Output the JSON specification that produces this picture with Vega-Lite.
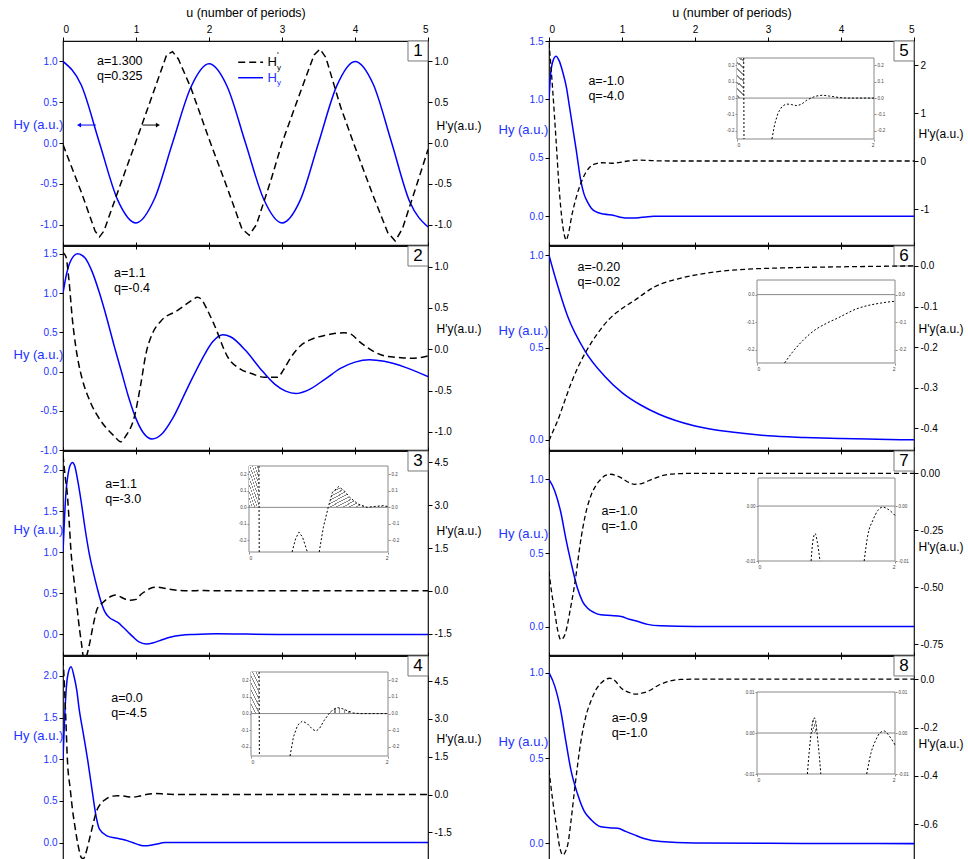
{
"$schema":"https://vega.github.io/schema/vega-lite/v6.json",
"padding":{"left":12,"top":5,"right":4,"bottom":2},
"bounds":"flush",
"spacing":486,
"config":{"font":"Liberation Sans","locale":{"number":{"decimal":".","thousands":",","grouping":[3],"currency":["$",""],"minus":"-"}},"view":{"stroke":"#111","strokeWidth":1.2},
"axis":{"grid":false,"domain":false,"labelFontSize":10,"tickSize":4,"labelPadding":2,"tickColor":"#000","labelColor":"#000","titleFontWeight":"normal","titleFontSize":13,"titleColor":"#000"}},
"datasets":{
"p1hy":[{"u":0,"v":1.0},{"u":0.25,"v":0.71},{"u":0.5,"v":0.0},{"u":0.75,"v":-0.7},{"u":1.0,"v":-0.98},{"u":1.25,"v":-0.69},{"u":1.5,"v":0.0},{"u":1.75,"v":0.68},{"u":2.0,"v":0.97},{"u":2.25,"v":0.69},{"u":2.5,"v":0.0},{"u":2.75,"v":-0.69},{"u":3.0,"v":-0.98},{"u":3.25,"v":-0.7},{"u":3.5,"v":0.0},{"u":3.75,"v":0.7},{"u":4.0,"v":1.0},{"u":4.25,"v":0.72},{"u":4.5,"v":0.01},{"u":4.75,"v":-0.72},{"u":5.0,"v":-1.03}],
"p1hp":[{"u":0,"v":-0.02},{"u":0.25,"v":-0.6},{"u":0.44,"v":-1.08},{"u":0.5,"v":-1.15},{"u":0.56,"v":-1.08},{"u":0.75,"v":-0.6},{"u":1.0,"v":0.02},{"u":1.25,"v":0.65},{"u":1.42,"v":1.08},{"u":1.5,"v":1.12},{"u":1.58,"v":1.03},{"u":1.75,"v":0.68},{"u":2.0,"v":0.05},{"u":2.25,"v":-0.55},{"u":2.45,"v":-1.05},{"u":2.55,"v":-1.13},{"u":2.65,"v":-1.0},{"u":2.85,"v":-0.45},{"u":3.0,"v":0.0},{"u":3.25,"v":0.62},{"u":3.44,"v":1.08},{"u":3.52,"v":1.15},{"u":3.6,"v":1.05},{"u":3.8,"v":0.45},{"u":4.0,"v":-0.05},{"u":4.25,"v":-0.65},{"u":4.45,"v":-1.1},{"u":4.55,"v":-1.2},{"u":4.65,"v":-1.05},{"u":4.85,"v":-0.5},{"u":5.0,"v":-0.08}],
"p2hy":[{"u":0,"v":1.0},{"u":0.05,"v":1.25},{"u":0.1,"v":1.4},{"u":0.2,"v":1.5},{"u":0.3,"v":1.45},{"u":0.4,"v":1.27},{"u":0.5,"v":1.0},{"u":0.6,"v":0.68},{"u":0.7,"v":0.33},{"u":0.8,"v":0.0},{"u":0.9,"v":-0.33},{"u":1.0,"v":-0.6},{"u":1.1,"v":-0.78},{"u":1.22,"v":-0.86},{"u":1.35,"v":-0.8},{"u":1.5,"v":-0.6},{"u":1.7,"v":-0.22},{"u":1.9,"v":0.15},{"u":2.05,"v":0.38},{"u":2.19,"v":0.47},{"u":2.3,"v":0.44},{"u":2.5,"v":0.27},{"u":2.7,"v":0.04},{"u":2.9,"v":-0.16},{"u":3.05,"v":-0.25},{"u":3.19,"v":-0.28},{"u":3.35,"v":-0.24},{"u":3.6,"v":-0.09},{"u":3.8,"v":0.04},{"u":4.0,"v":0.12},{"u":4.2,"v":0.15},{"u":4.4,"v":0.13},{"u":4.7,"v":0.05},{"u":5.0,"v":-0.065}],
"p2hp":[{"u":0,"v":1.17},{"u":0.04,"v":1.12},{"u":0.08,"v":0.85},{"u":0.13,"v":0.35},{"u":0.18,"v":0.0},{"u":0.22,"v":-0.2},{"u":0.26,"v":-0.35},{"u":0.38,"v":-0.65},{"u":0.52,"v":-0.87},{"u":0.7,"v":-1.05},{"u":0.79,"v":-1.12},{"u":0.86,"v":-1.05},{"u":0.98,"v":-0.81},{"u":1.06,"v":-0.45},{"u":1.14,"v":-0.04},{"u":1.22,"v":0.18},{"u":1.34,"v":0.34},{"u":1.57,"v":0.47},{"u":1.78,"v":0.6},{"u":1.84,"v":0.63},{"u":1.9,"v":0.6},{"u":1.98,"v":0.47},{"u":2.07,"v":0.3},{"u":2.26,"v":-0.1},{"u":2.43,"v":-0.24},{"u":2.6,"v":-0.3},{"u":2.76,"v":-0.34},{"u":2.94,"v":-0.34},{"u":3.02,"v":-0.25},{"u":3.12,"v":-0.1},{"u":3.25,"v":0.04},{"u":3.4,"v":0.12},{"u":3.6,"v":0.17},{"u":3.85,"v":0.2},{"u":3.95,"v":0.18},{"u":4.05,"v":0.1},{"u":4.17,"v":0.02},{"u":4.4,"v":-0.08},{"u":4.6,"v":-0.1},{"u":4.77,"v":-0.11},{"u":4.9,"v":-0.1},{"u":5.0,"v":-0.08}],
"p3hy":[{"u":0,"v":1.0},{"u":0.02,"v":1.4},{"u":0.04,"v":1.72},{"u":0.07,"v":1.95},{"u":0.1,"v":2.06},{"u":0.13,"v":2.09},{"u":0.16,"v":2.05},{"u":0.2,"v":1.88},{"u":0.25,"v":1.61},{"u":0.3,"v":1.3},{"u":0.36,"v":0.98},{"u":0.42,"v":0.74},{"u":0.47,"v":0.56},{"u":0.52,"v":0.4},{"u":0.57,"v":0.28},{"u":0.63,"v":0.21},{"u":0.7,"v":0.17},{"u":0.76,"v":0.14},{"u":0.82,"v":0.09},{"u":0.89,"v":0.03},{"u":0.96,"v":-0.03},{"u":1.04,"v":-0.09},{"u":1.14,"v":-0.115},{"u":1.24,"v":-0.1},{"u":1.34,"v":-0.07},{"u":1.48,"v":-0.03},{"u":1.62,"v":-0.01},{"u":1.8,"v":0.0},{"u":2.1,"v":0.008},{"u":2.5,"v":0.004},{"u":3.0,"v":0.0},{"u":5.0,"v":0.0}],
"p3hp":[{"u":0,"v":4.76},{"u":0.03,"v":4.0},{"u":0.06,"v":3.36},{"u":0.085,"v":2.4},{"u":0.11,"v":1.37},{"u":0.145,"v":0.5},{"u":0.18,"v":-0.27},{"u":0.21,"v":-1.0},{"u":0.25,"v":-1.79},{"u":0.29,"v":-2.4},{"u":0.32,"v":-2.3},{"u":0.36,"v":-1.9},{"u":0.41,"v":-1.25},{"u":0.47,"v":-0.62},{"u":0.55,"v":-0.4},{"u":0.62,"v":-0.25},{"u":0.67,"v":-0.18},{"u":0.72,"v":-0.15},{"u":0.77,"v":-0.19},{"u":0.84,"v":-0.28},{"u":0.91,"v":-0.33},{"u":1.0,"v":-0.3},{"u":1.07,"v":-0.12},{"u":1.14,"v":0.0},{"u":1.2,"v":0.09},{"u":1.29,"v":0.125},{"u":1.37,"v":0.1},{"u":1.45,"v":0.06},{"u":1.57,"v":0.02},{"u":1.7,"v":0.0},{"u":1.93,"v":0.01},{"u":2.1,"v":0.0},{"u":5.0,"v":0.0}],
"p3in":[{"s":1,"u":0.143,"v":0.25},{"s":1,"u":0.147,"v":-0.27},{"s":2,"u":0.62,"v":-0.27},{"s":2,"u":0.67,"v":-0.19},{"s":2,"u":0.72,"v":-0.15},{"s":2,"u":0.77,"v":-0.18},{"s":2,"u":0.84,"v":-0.27},{"s":3,"u":1.01,"v":-0.27},{"s":3,"u":1.07,"v":-0.12},{"s":3,"u":1.14,"v":0.0},{"s":3,"u":1.2,"v":0.09},{"s":3,"u":1.29,"v":0.125},{"s":3,"u":1.37,"v":0.1},{"s":3,"u":1.45,"v":0.06},{"s":3,"u":1.57,"v":0.02},{"s":3,"u":1.7,"v":0.0},{"s":3,"u":1.8,"v":0.005},{"s":3,"u":1.93,"v":0.01},{"s":3,"u":2.0,"v":0.005}],
"p3hatch":[{"s":1,"u":0,"v":0.25},{"s":1,"u":0.145,"v":0.25},{"s":2,"u":1.14,"v":0.0},{"s":2,"u":1.2,"v":0.09},{"s":2,"u":1.29,"v":0.125},{"s":2,"u":1.37,"v":0.1},{"s":2,"u":1.45,"v":0.06},{"s":2,"u":1.57,"v":0.02},{"s":2,"u":1.7,"v":0.0},{"s":3,"u":1.7,"v":0.0},{"s":3,"u":1.8,"v":0.005},{"s":3,"u":1.93,"v":0.01},{"s":3,"u":2.0,"v":0.005}],
"p4hy":[{"u":0,"v":1.0},{"u":0.02,"v":1.45},{"u":0.045,"v":1.85},{"u":0.07,"v":2.03},{"u":0.11,"v":2.11},{"u":0.15,"v":2.0},{"u":0.19,"v":1.82},{"u":0.22,"v":1.61},{"u":0.28,"v":1.3},{"u":0.34,"v":0.98},{"u":0.4,"v":0.62},{"u":0.45,"v":0.33},{"u":0.5,"v":0.16},{"u":0.6,"v":0.08},{"u":0.74,"v":0.05},{"u":0.85,"v":0.03},{"u":0.95,"v":0.0},{"u":1.05,"v":-0.03},{"u":1.11,"v":-0.04},{"u":1.25,"v":-0.025},{"u":1.4,"v":0.0},{"u":5.0,"v":0.0}],
"p4hp":[{"u":0,"v":5.4},{"u":0.02,"v":4.3},{"u":0.04,"v":2.9},{"u":0.06,"v":1.4},{"u":0.1,"v":0.2},{"u":0.13,"v":-0.6},{"u":0.16,"v":-1.2},{"u":0.19,"v":-1.75},{"u":0.22,"v":-2.2},{"u":0.25,"v":-2.5},{"u":0.28,"v":-2.55},{"u":0.31,"v":-2.35},{"u":0.36,"v":-1.8},{"u":0.41,"v":-1.2},{"u":0.45,"v":-0.74},{"u":0.52,"v":-0.35},{"u":0.58,"v":-0.2},{"u":0.65,"v":-0.08},{"u":0.75,"v":-0.045},{"u":0.85,"v":-0.07},{"u":0.95,"v":-0.105},{"u":1.05,"v":-0.06},{"u":1.14,"v":0.0},{"u":1.26,"v":0.036},{"u":1.4,"v":0.02},{"u":1.6,"v":0.0},{"u":5.0,"v":0.0}],
"p4in":[{"s":1,"u":0.118,"v":0.25},{"s":1,"u":0.122,"v":-0.255},{"s":2,"u":0.57,"v":-0.255},{"s":2,"u":0.62,"v":-0.14},{"s":2,"u":0.68,"v":-0.07},{"s":2,"u":0.75,"v":-0.045},{"s":2,"u":0.82,"v":-0.06},{"s":2,"u":0.9,"v":-0.095},{"s":2,"u":0.95,"v":-0.105},{"s":2,"u":1.0,"v":-0.09},{"s":2,"u":1.07,"v":-0.04},{"s":2,"u":1.14,"v":0.0},{"s":2,"u":1.2,"v":0.025},{"s":2,"u":1.26,"v":0.036},{"s":2,"u":1.33,"v":0.03},{"s":2,"u":1.42,"v":0.015},{"s":2,"u":1.5,"v":0.003},{"s":2,"u":1.6,"v":0.0},{"s":2,"u":2.0,"v":0.0}],
"p4hatch":[{"s":1,"u":0,"v":0.25},{"s":1,"u":0.12,"v":0.25},{"s":2,"u":1.14,"v":0.0},{"s":2,"u":1.2,"v":0.025},{"s":2,"u":1.26,"v":0.036},{"s":2,"u":1.33,"v":0.03},{"s":2,"u":1.42,"v":0.015},{"s":2,"u":1.5,"v":0.003},{"s":2,"u":1.55,"v":0.0}],
"p5hy":[{"u":0,"v":1.0},{"u":0.02,"v":1.2},{"u":0.05,"v":1.32},{"u":0.096,"v":1.37},{"u":0.14,"v":1.33},{"u":0.19,"v":1.23},{"u":0.24,"v":1.1},{"u":0.28,"v":0.94},{"u":0.33,"v":0.74},{"u":0.37,"v":0.58},{"u":0.44,"v":0.29},{"u":0.48,"v":0.19},{"u":0.53,"v":0.12},{"u":0.58,"v":0.07},{"u":0.64,"v":0.04},{"u":0.75,"v":0.02},{"u":0.89,"v":0.008},{"u":1.0,"v":-0.01},{"u":1.08,"v":-0.015},{"u":1.25,"v":-0.01},{"u":1.44,"v":0.0},{"u":5.0,"v":0.0}],
"p5hp":[{"u":0,"v":2.46},{"u":0.02,"v":2.1},{"u":0.05,"v":1.49},{"u":0.096,"v":0.45},{"u":0.14,"v":-0.59},{"u":0.18,"v":-1.25},{"u":0.22,"v":-1.6},{"u":0.235,"v":-1.65},{"u":0.26,"v":-1.55},{"u":0.32,"v":-1.08},{"u":0.38,"v":-0.72},{"u":0.44,"v":-0.45},{"u":0.5,"v":-0.25},{"u":0.58,"v":-0.1},{"u":0.66,"v":-0.05},{"u":0.72,"v":-0.036},{"u":0.8,"v":-0.04},{"u":0.88,"v":-0.047},{"u":0.95,"v":-0.035},{"u":1.08,"v":0.0},{"u":1.25,"v":0.018},{"u":1.45,"v":0.005},{"u":1.7,"v":0.0},{"u":5.0,"v":0.0}],
"p5in":[{"s":1,"u":0.098,"v":0.245},{"s":1,"u":0.102,"v":-0.25},{"s":2,"u":0.51,"v":-0.25},{"s":2,"u":0.55,"v":-0.16},{"s":2,"u":0.6,"v":-0.09},{"s":2,"u":0.66,"v":-0.05},{"s":2,"u":0.72,"v":-0.036},{"s":2,"u":0.8,"v":-0.04},{"s":2,"u":0.88,"v":-0.047},{"s":2,"u":0.95,"v":-0.035},{"s":2,"u":1.02,"v":-0.012},{"s":2,"u":1.08,"v":0.0},{"s":2,"u":1.15,"v":0.012},{"s":2,"u":1.25,"v":0.018},{"s":2,"u":1.35,"v":0.012},{"s":2,"u":1.5,"v":0.003},{"s":2,"u":1.6,"v":0.0},{"s":2,"u":2.0,"v":0.0}],
"p5hatch":[{"s":1,"u":0,"v":0.245},{"s":1,"u":0.1,"v":0.245}],
"p6hy":[{"u":0,"v":1.0},{"u":0.1,"v":0.86},{"u":0.25,"v":0.675},{"u":0.5,"v":0.477},{"u":0.75,"v":0.35},{"u":1.0,"v":0.256},{"u":1.25,"v":0.19},{"u":1.5,"v":0.14},{"u":2.0,"v":0.075},{"u":2.5,"v":0.042},{"u":3.0,"v":0.022},{"u":3.5,"v":0.013},{"u":4.0,"v":0.007},{"u":4.5,"v":0.003},{"u":5.0,"v":0.0}],
"p6hp":[{"u":0,"v":-0.43},{"u":0.06,"v":-0.405},{"u":0.12,"v":-0.38},{"u":0.2,"v":-0.34},{"u":0.3,"v":-0.29},{"u":0.4,"v":-0.248},{"u":0.51,"v":-0.21},{"u":0.67,"v":-0.165},{"u":0.83,"v":-0.13},{"u":1.0,"v":-0.105},{"u":1.17,"v":-0.085},{"u":1.44,"v":-0.052},{"u":1.81,"v":-0.03},{"u":2.27,"v":-0.015},{"u":2.72,"v":-0.008},{"u":3.18,"v":-0.005},{"u":4.09,"v":-0.002},{"u":5.0,"v":0.0}],
"p6in":[{"s":1,"u":0.4,"v":-0.248},{"s":1,"u":0.51,"v":-0.21},{"s":1,"u":0.67,"v":-0.165},{"s":1,"u":0.83,"v":-0.13},{"s":1,"u":1.0,"v":-0.105},{"s":1,"u":1.17,"v":-0.085},{"s":1,"u":1.44,"v":-0.052},{"s":1,"u":1.81,"v":-0.03},{"s":1,"u":2.0,"v":-0.024}],
"p7hy":[{"u":0,"v":1.0},{"u":0.08,"v":0.92},{"u":0.16,"v":0.78},{"u":0.23,"v":0.6},{"u":0.3,"v":0.44},{"u":0.39,"v":0.26},{"u":0.46,"v":0.17},{"u":0.53,"v":0.125},{"u":0.62,"v":0.095},{"u":0.71,"v":0.08},{"u":0.85,"v":0.075},{"u":0.99,"v":0.068},{"u":1.1,"v":0.05},{"u":1.22,"v":0.034},{"u":1.35,"v":0.015},{"u":1.53,"v":0.005},{"u":2.0,"v":0.0},{"u":5.0,"v":0.0}],
"p7hp":[{"u":0,"v":-0.43},{"u":0.035,"v":-0.52},{"u":0.07,"v":-0.59},{"u":0.12,"v":-0.69},{"u":0.16,"v":-0.73},{"u":0.2,"v":-0.72},{"u":0.23,"v":-0.695},{"u":0.29,"v":-0.6},{"u":0.35,"v":-0.49},{"u":0.44,"v":-0.283},{"u":0.5,"v":-0.18},{"u":0.58,"v":-0.093},{"u":0.65,"v":-0.05},{"u":0.71,"v":-0.026},{"u":0.78,"v":-0.008},{"u":0.85,"v":-0.004},{"u":0.92,"v":-0.01},{"u":0.99,"v":-0.02},{"u":1.08,"v":-0.038},{"u":1.17,"v":-0.048},{"u":1.25,"v":-0.046},{"u":1.31,"v":-0.04},{"u":1.42,"v":-0.025},{"u":1.53,"v":-0.012},{"u":1.65,"v":-0.004},{"u":1.81,"v":-0.001},{"u":2.0,"v":0.0},{"u":5.0,"v":0.0}],
"p7in":[{"s":1,"u":0.775,"v":-0.01},{"s":1,"u":0.8,"v":-0.0065},{"s":1,"u":0.833,"v":-0.005},{"s":1,"u":0.865,"v":-0.0065},{"s":1,"u":0.905,"v":-0.01},{"s":2,"u":1.55,"v":-0.01},{"s":2,"u":1.6,"v":-0.0055},{"s":2,"u":1.68,"v":-0.0025},{"s":2,"u":1.75,"v":-0.0008},{"s":2,"u":1.82,"v":-0.0002},{"s":2,"u":1.9,"v":-0.0006},{"s":2,"u":2.0,"v":-0.0017}],
"p8hy":[{"u":0,"v":1.0},{"u":0.08,"v":0.92},{"u":0.16,"v":0.78},{"u":0.23,"v":0.6},{"u":0.3,"v":0.43},{"u":0.39,"v":0.29},{"u":0.48,"v":0.19},{"u":0.58,"v":0.137},{"u":0.71,"v":0.097},{"u":0.85,"v":0.09},{"u":0.94,"v":0.088},{"u":1.05,"v":0.07},{"u":1.17,"v":0.049},{"u":1.3,"v":0.028},{"u":1.53,"v":0.01},{"u":2.0,"v":0.002},{"u":3.0,"v":0.0},{"u":4.0,"v":-0.001},{"u":5.0,"v":-0.002}],
"p8hp":[{"u":0,"v":-0.375},{"u":0.05,"v":-0.5},{"u":0.096,"v":-0.596},{"u":0.15,"v":-0.7},{"u":0.19,"v":-0.727},{"u":0.23,"v":-0.71},{"u":0.26,"v":-0.68},{"u":0.3,"v":-0.59},{"u":0.35,"v":-0.458},{"u":0.44,"v":-0.251},{"u":0.5,"v":-0.16},{"u":0.58,"v":-0.086},{"u":0.65,"v":-0.04},{"u":0.7,"v":-0.02},{"u":0.76,"v":-0.004},{"u":0.83,"v":0.004},{"u":0.9,"v":-0.005},{"u":0.99,"v":-0.037},{"u":1.1,"v":-0.055},{"u":1.19,"v":-0.062},{"u":1.27,"v":-0.058},{"u":1.35,"v":-0.051},{"u":1.5,"v":-0.025},{"u":1.63,"v":-0.01},{"u":1.8,"v":-0.001},{"u":2.0,"v":0.0},{"u":5.0,"v":0.0}],
"p8in":[{"s":1,"u":0.73,"v":-0.01},{"s":1,"u":0.76,"v":-0.004},{"s":1,"u":0.785,"v":0.0},{"s":1,"u":0.81,"v":0.003},{"s":1,"u":0.83,"v":0.0037},{"s":1,"u":0.85,"v":0.003},{"s":1,"u":0.87,"v":0.0},{"s":1,"u":0.9,"v":-0.005},{"s":1,"u":0.925,"v":-0.01},{"s":2,"u":1.59,"v":-0.01},{"s":2,"u":1.65,"v":-0.005},{"s":2,"u":1.72,"v":-0.0018},{"s":2,"u":1.78,"v":0.0},{"s":2,"u":1.84,"v":0.0005},{"s":2,"u":1.92,"v":-0.0008},{"s":2,"u":2.0,"v":-0.0029}],
"p8hatch":[{"s":1,"u":0.785,"v":0.0},{"s":1,"u":0.81,"v":0.003},{"s":1,"u":0.83,"v":0.0037},{"s":1,"u":0.85,"v":0.003},{"s":1,"u":0.87,"v":0.0}]
},
"hconcat":[
{"vconcat":[
{"width":365,"height":204,
"layer":[
{"layer":[
{"data":{"name":"p1hy"},"mark":{"type":"line","color":"#0000ff","strokeWidth":1.5,"interpolate":"monotone","clip":true},
"encoding":{"x":{"field":"u","type":"quantitative","scale":{"domain":[0,5],"nice":false,"zero":false},"axis":{"orient":"top","values":[0,1,2,3,4,5],"format":"d","title":"u (number of periods)","titleFontSize":12.5,"titlePadding":5,"labelPadding":3}},
"y":{"field":"v","type":"quantitative","scale":{"domain":[-1.25,1.25],"nice":false,"zero":false},"axis":{"orient":"left","values":[-1,-0.5,0,0.5,1],"format":".1f","labelColor":"#2233ff","title":"Hy (a.u.)","titleColor":"#2233ff","titleAngle":0,"titleX":-50,"titleY":83,"titleAlign":"left","titleBaseline":"middle"}}}},
{"data":{"values":[{}]},"mark":{"type":"text","align":"left","baseline":"top","fontSize":12.5,"lineHeight":15},"encoding":{"x":{"datum":0.466},"y":{"datum":1.077},"text":{"value":["a=1.300","q=0.325"]}}},
{"data":{"values":[{}]},"mark":{"type":"rect","fill":"#fff","stroke":"#777","strokeWidth":1},"encoding":{"x":{"datum":4.726},"x2":{"datum":5},"y":{"datum":1.25},"y2":{"datum":1.005}}},
{"data":{"values":[{}]},"mark":{"type":"text","align":"center","baseline":"middle","fontSize":17},"encoding":{"x":{"datum":4.863},"y":{"datum":1.128},"text":{"value":"1"}}},
{"data":{"values":[{}]},"mark":{"type":"rule","color":"#0000ff","strokeWidth":1},"encoding":{"x":{"datum":0.23},"x2":{"datum":0.45},"y":{"datum":0.22}}},
{"data":{"values":[{}]},"mark":{"type":"point","shape":"triangle-left","filled":true,"color":"#0000ff","size":22,"opacity":1},"encoding":{"x":{"datum":0.22},"y":{"datum":0.22}}},
{"data":{"values":[{}]},"mark":{"type":"rule","color":"#000","strokeWidth":1},"encoding":{"x":{"datum":1.09},"x2":{"datum":1.28},"y":{"datum":0.22}}},
{"data":{"values":[{}]},"mark":{"type":"point","shape":"triangle-right","filled":true,"color":"#000","size":22,"opacity":1},"encoding":{"x":{"datum":1.3},"y":{"datum":0.22}}},
{"data":{"values":[{}]},"mark":{"type":"rule","color":"#000","strokeWidth":1.5,"strokeDash":[7,4]},"encoding":{"x":{"datum":2.4},"x2":{"datum":2.74},"y":{"datum":0.99}}},
{"data":{"values":[{}]},"mark":{"type":"rule","color":"#0000ff","strokeWidth":1.5},"encoding":{"x":{"datum":2.4},"x2":{"datum":2.74},"y":{"datum":0.8}}},
{"data":{"values":[{}]},"mark":{"type":"text","align":"left","baseline":"middle","fontSize":13,"color":"#000"},"encoding":{"x":{"datum":2.8},"y":{"datum":0.99},"text":{"value":"H"}}},
{"data":{"values":[{}]},"mark":{"type":"text","align":"left","baseline":"middle","fontSize":9,"color":"#000"},"encoding":{"x":{"datum":2.93},"y":{"datum":1.08},"text":{"value":"'"}}},
{"data":{"values":[{}]},"mark":{"type":"text","align":"left","baseline":"middle","fontSize":8,"color":"#000"},"encoding":{"x":{"datum":2.93},"y":{"datum":0.92},"text":{"value":"y"}}},
{"data":{"values":[{}]},"mark":{"type":"text","align":"left","baseline":"middle","fontSize":13,"color":"#2233ff"},"encoding":{"x":{"datum":2.8},"y":{"datum":0.8},"text":{"value":"H"}}},
{"data":{"values":[{}]},"mark":{"type":"text","align":"left","baseline":"middle","fontSize":8,"color":"#2233ff"},"encoding":{"x":{"datum":2.93},"y":{"datum":0.73},"text":{"value":"y"}}}
]},
{"data":{"name":"p1hp"},"mark":{"type":"line","color":"#000","strokeWidth":1.5,"strokeDash":[7,4],"clip":true},
"encoding":{"x":{"field":"u","type":"quantitative","scale":{"domain":[0,5],"nice":false,"zero":false},"axis":{"orient":"bottom","values":[0,1,2,3,4,5],"labels":false,"title":null}},
"y":{"field":"v","type":"quantitative","scale":{"domain":[-1.25,1.25],"nice":false,"zero":false},"axis":{"orient":"right","values":[-1,-0.5,0,0.5,1],"format":".1f","title":"H'y(a.u.)","titleFontSize":12,"titleAngle":0,"titleX":8,"titleY":84,"titleAlign":"left","titleBaseline":"middle"}}}}
],
"resolve":{"scale":{"x":"independent","y":"independent"}}},

{"width":365,"height":204,
"layer":[
{"layer":[
{"data":{"name":"p2hy"},"mark":{"type":"line","color":"#0000ff","strokeWidth":1.5,"interpolate":"monotone","clip":true},
"encoding":{"x":{"field":"u","type":"quantitative","scale":{"domain":[0,5],"nice":false,"zero":false},"axis":{"orient":"top","values":[0,1,2,3,4,5],"labels":false,"title":null}},
"y":{"field":"v","type":"quantitative","scale":{"domain":[-1.0,1.6],"nice":false,"zero":false},"axis":{"orient":"left","values":[-1,-0.5,0,0.5,1,1.5],"format":".1f","labelColor":"#2233ff","title":"Hy (a.u.)","titleColor":"#2233ff","titleAngle":0,"titleX":-50,"titleY":108,"titleAlign":"left","titleBaseline":"middle"}}}},
{"data":{"values":[{}]},"mark":{"type":"text","align":"left","baseline":"top","fontSize":12.5,"lineHeight":15},"encoding":{"x":{"datum":0.7},"y":{"datum":1.336},"text":{"value":["a=1.1","q=-0.4"]}}},
{"data":{"values":[{}]},"mark":{"type":"rect","fill":"#fff","stroke":"#777","strokeWidth":1},"encoding":{"x":{"datum":4.726},"x2":{"datum":5},"y":{"datum":1.6},"y2":{"datum":1.345}}},
{"data":{"values":[{}]},"mark":{"type":"text","align":"center","baseline":"middle","fontSize":17},"encoding":{"x":{"datum":4.863},"y":{"datum":1.473},"text":{"value":"2"}}}
]},
{"data":{"name":"p2hp"},"mark":{"type":"line","color":"#000","strokeWidth":1.5,"strokeDash":[7,4],"interpolate":"monotone","clip":true},
"encoding":{"x":{"field":"u","type":"quantitative","scale":{"domain":[0,5],"nice":false,"zero":false},"axis":{"orient":"bottom","values":[0,1,2,3,4,5],"labels":false,"title":null}},
"y":{"field":"v","type":"quantitative","scale":{"domain":[-1.22,1.25],"nice":false,"zero":false},"axis":{"orient":"right","values":[-1,-0.5,0,0.5,1],"format":".1f","title":"H'y(a.u.)","titleFontSize":12,"titleAngle":0,"titleX":8,"titleY":82,"titleAlign":"left","titleBaseline":"middle"}}}}
],
"resolve":{"scale":{"x":"independent","y":"independent"}}},

{"width":365,"height":204,
"layer":[
{"layer":[
{"data":{"name":"p3hy"},"mark":{"type":"line","color":"#0000ff","strokeWidth":1.5,"interpolate":"monotone","clip":true},
"encoding":{"x":{"field":"u","type":"quantitative","scale":{"domain":[0,5],"nice":false,"zero":false},"axis":{"orient":"top","values":[0,1,2,3,4,5],"labels":false,"title":null}},
"y":{"field":"v","type":"quantitative","scale":{"domain":[-0.25,2.23],"nice":false,"zero":false},"axis":{"orient":"left","values":[0,0.5,1,1.5,2],"format":".1f","labelColor":"#2233ff","title":"Hy (a.u.)","titleColor":"#2233ff","titleAngle":0,"titleX":-50,"titleY":78,"titleAlign":"left","titleBaseline":"middle"}}}},
{"data":{"values":[{}]},"mark":{"type":"text","align":"left","baseline":"top","fontSize":12.5,"lineHeight":15},"encoding":{"x":{"datum":0.58},"y":{"datum":1.9},"text":{"value":["a=1.1","q=-3.0"]}}},
{"data":{"values":[{}]},"mark":{"type":"rect","fill":"#fff","stroke":"#777","strokeWidth":1},"encoding":{"x":{"datum":4.726},"x2":{"datum":5},"y":{"datum":2.23},"y2":{"datum":1.987}}},
{"data":{"values":[{}]},"mark":{"type":"text","align":"center","baseline":"middle","fontSize":17},"encoding":{"x":{"datum":4.863},"y":{"datum":2.108},"text":{"value":"3"}}}
]},
{"data":{"name":"p3hp"},"mark":{"type":"line","color":"#000","strokeWidth":1.5,"strokeDash":[7,4],"interpolate":"monotone","clip":true},
"encoding":{"x":{"field":"u","type":"quantitative","scale":{"domain":[0,5],"nice":false,"zero":false},"axis":{"orient":"bottom","values":[0,1,2,3,4,5],"labels":false,"title":null}},
"y":{"field":"v","type":"quantitative","scale":{"domain":[-2.25,4.9],"nice":false,"zero":false},"axis":{"orient":"right","values":[-1.5,0,1.5,3,4.5],"format":".1f","title":"H'y(a.u.)","titleFontSize":12,"titleAngle":0,"titleX":8,"titleY":79,"titleAlign":"left","titleBaseline":"middle"}}}},
{"layer":[
{"data":{"values":[{}]},"mark":{"type":"rect","fill":"#fff","stroke":"#888","strokeWidth":1},
"encoding":{"x":{"datum":0,"scale":{"domain":[0,2],"range":[186,325],"nice":false,"zero":false},"axis":{"orient":"bottom","offset":-103,"values":[0,1,2],"format":"d","labelFontSize":5,"tickSize":2,"labelPadding":1,"title":null,"tickColor":"#888","labelColor":"#444"}},"x2":{"datum":2},
"y":{"datum":-0.27,"scale":{"domain":[-0.27,0.25],"range":[101,15],"nice":false,"zero":false},"axis":{"orient":"left","offset":-186,"values":[-0.2,-0.1,0,0.1,0.2],"format":".1f","labelFontSize":4.5,"tickSize":2,"labelPadding":1,"title":null,"tickColor":"#888","labelColor":"#444"}},"y2":{"datum":0.25}}},
{"data":{"name":"p3hatch"},"mark":{"type":"area","fill":{"gradient":"linear","x1":0,"y1":0,"x2":1,"y2":1,"stops":[{"offset":0,"color":"#888"},{"offset":0.025,"color":"#888"},{"offset":0.025,"color":"#fff"},{"offset":0.0833,"color":"#fff"},{"offset":0.0833,"color":"#888"},{"offset":0.1083,"color":"#888"},{"offset":0.1083,"color":"#fff"},{"offset":0.1667,"color":"#fff"},{"offset":0.1667,"color":"#888"},{"offset":0.1917,"color":"#888"},{"offset":0.1917,"color":"#fff"},{"offset":0.25,"color":"#fff"},{"offset":0.25,"color":"#888"},{"offset":0.275,"color":"#888"},{"offset":0.275,"color":"#fff"},{"offset":0.3333,"color":"#fff"},{"offset":0.3333,"color":"#888"},{"offset":0.3583,"color":"#888"},{"offset":0.3583,"color":"#fff"},{"offset":0.4167,"color":"#fff"},{"offset":0.4167,"color":"#888"},{"offset":0.4417,"color":"#888"},{"offset":0.4417,"color":"#fff"},{"offset":0.5,"color":"#fff"},{"offset":0.5,"color":"#888"},{"offset":0.525,"color":"#888"},{"offset":0.525,"color":"#fff"},{"offset":0.5833,"color":"#fff"},{"offset":0.5833,"color":"#888"},{"offset":0.6083,"color":"#888"},{"offset":0.6083,"color":"#fff"},{"offset":0.6667,"color":"#fff"},{"offset":0.6667,"color":"#888"},{"offset":0.6917,"color":"#888"},{"offset":0.6917,"color":"#fff"},{"offset":0.75,"color":"#fff"},{"offset":0.75,"color":"#888"},{"offset":0.775,"color":"#888"},{"offset":0.775,"color":"#fff"},{"offset":0.8333,"color":"#fff"},{"offset":0.8333,"color":"#888"},{"offset":0.8583,"color":"#888"},{"offset":0.8583,"color":"#fff"},{"offset":0.9167,"color":"#fff"},{"offset":0.9167,"color":"#888"},{"offset":0.9417,"color":"#888"},{"offset":0.9417,"color":"#fff"},{"offset":1,"color":"#fff"}]}},
"encoding":{"x":{"field":"u","type":"quantitative","title":null},"y":{"field":"v","type":"quantitative","axis":null,"title":null},"y2":{"datum":0},"detail":{"field":"s"}}},
{"data":{"values":[{}]},"mark":{"type":"rule","color":"#888","strokeWidth":1},"encoding":{"x":{"datum":0},"x2":{"datum":2},"y":{"datum":0,"axis":null}}},
{"data":{"name":"p3in"},"mark":{"type":"line","color":"#000","strokeWidth":1,"strokeDash":[2,2]},
"encoding":{"x":{"field":"u","type":"quantitative","title":null},"y":{"field":"v","type":"quantitative","title":null,"axis":{"orient":"right","offset":-40,"values":[-0.2,-0.1,0,0.1,0.2],"format":".1f","labelFontSize":4.5,"tickSize":2,"labelPadding":1,"title":null,"tickColor":"#888","labelColor":"#444"}},"detail":{"field":"s"}}}
],
"resolve":{"axis":{"y":"independent"}}}
],
"resolve":{"scale":{"x":"independent","y":"independent"}}},

{"width":365,"height":204,
"layer":[
{"layer":[
{"data":{"name":"p4hy"},"mark":{"type":"line","color":"#0000ff","strokeWidth":1.5,"interpolate":"monotone","clip":true},
"encoding":{"x":{"field":"u","type":"quantitative","scale":{"domain":[0,5],"nice":false,"zero":false},"axis":{"orient":"top","values":[0,1,2,3,4,5],"labels":false,"title":null}},
"y":{"field":"v","type":"quantitative","scale":{"domain":[-0.21,2.24],"nice":false,"zero":false},"axis":{"orient":"left","values":[0,0.5,1,1.5,2],"format":".1f","labelColor":"#2233ff","title":"Hy (a.u.)","titleColor":"#2233ff","titleAngle":0,"titleX":-50,"titleY":79,"titleAlign":"left","titleBaseline":"middle"}}}},
{"data":{"values":[{}]},"mark":{"type":"text","align":"left","baseline":"top","fontSize":12.5,"lineHeight":15},"encoding":{"x":{"datum":0.66},"y":{"datum":1.81},"text":{"value":["a=0.0","q=-4.5"]}}},
{"data":{"values":[{}]},"mark":{"type":"rect","fill":"#fff","stroke":"#777","strokeWidth":1},"encoding":{"x":{"datum":4.726},"x2":{"datum":5},"y":{"datum":2.24},"y2":{"datum":2.0}}},
{"data":{"values":[{}]},"mark":{"type":"text","align":"center","baseline":"middle","fontSize":17},"encoding":{"x":{"datum":4.863},"y":{"datum":2.12},"text":{"value":"4"}}}
]},
{"data":{"name":"p4hp"},"mark":{"type":"line","color":"#000","strokeWidth":1.5,"strokeDash":[7,4],"interpolate":"monotone","clip":true},
"encoding":{"x":{"field":"u","type":"quantitative","scale":{"domain":[0,5],"nice":false,"zero":false},"axis":{"orient":"bottom","values":[0,1,2,3,4,5],"labels":false,"title":null}},
"y":{"field":"v","type":"quantitative","scale":{"domain":[-2.6,5.5],"nice":false,"zero":false},"axis":{"orient":"right","values":[-1.5,0,1.5,3,4.5],"format":".1f","title":"H'y(a.u.)","titleFontSize":12,"titleAngle":0,"titleX":8,"titleY":82,"titleAlign":"left","titleBaseline":"middle"}}}},
{"layer":[
{"data":{"values":[{}]},"mark":{"type":"rect","fill":"#fff","stroke":"#888","strokeWidth":1},
"encoding":{"x":{"datum":0,"scale":{"domain":[0,2],"range":[188,325],"nice":false,"zero":false},"axis":{"orient":"bottom","offset":-104,"values":[0,1,2],"format":"d","labelFontSize":5,"tickSize":2,"labelPadding":1,"title":null,"tickColor":"#888","labelColor":"#444"}},"x2":{"datum":2},
"y":{"datum":-0.255,"scale":{"domain":[-0.255,0.25],"range":[100,16],"nice":false,"zero":false},"axis":{"orient":"left","offset":-188,"values":[-0.2,-0.1,0,0.1,0.2],"format":".1f","labelFontSize":4.5,"tickSize":2,"labelPadding":1,"title":null,"tickColor":"#888","labelColor":"#444"}},"y2":{"datum":0.25}}},
{"data":{"name":"p4hatch"},"mark":{"type":"area","fill":{"gradient":"linear","x1":0,"y1":0,"x2":1,"y2":1,"stops":[{"offset":0,"color":"#888"},{"offset":0.025,"color":"#888"},{"offset":0.025,"color":"#fff"},{"offset":0.0833,"color":"#fff"},{"offset":0.0833,"color":"#888"},{"offset":0.1083,"color":"#888"},{"offset":0.1083,"color":"#fff"},{"offset":0.1667,"color":"#fff"},{"offset":0.1667,"color":"#888"},{"offset":0.1917,"color":"#888"},{"offset":0.1917,"color":"#fff"},{"offset":0.25,"color":"#fff"},{"offset":0.25,"color":"#888"},{"offset":0.275,"color":"#888"},{"offset":0.275,"color":"#fff"},{"offset":0.3333,"color":"#fff"},{"offset":0.3333,"color":"#888"},{"offset":0.3583,"color":"#888"},{"offset":0.3583,"color":"#fff"},{"offset":0.4167,"color":"#fff"},{"offset":0.4167,"color":"#888"},{"offset":0.4417,"color":"#888"},{"offset":0.4417,"color":"#fff"},{"offset":0.5,"color":"#fff"},{"offset":0.5,"color":"#888"},{"offset":0.525,"color":"#888"},{"offset":0.525,"color":"#fff"},{"offset":0.5833,"color":"#fff"},{"offset":0.5833,"color":"#888"},{"offset":0.6083,"color":"#888"},{"offset":0.6083,"color":"#fff"},{"offset":0.6667,"color":"#fff"},{"offset":0.6667,"color":"#888"},{"offset":0.6917,"color":"#888"},{"offset":0.6917,"color":"#fff"},{"offset":0.75,"color":"#fff"},{"offset":0.75,"color":"#888"},{"offset":0.775,"color":"#888"},{"offset":0.775,"color":"#fff"},{"offset":0.8333,"color":"#fff"},{"offset":0.8333,"color":"#888"},{"offset":0.8583,"color":"#888"},{"offset":0.8583,"color":"#fff"},{"offset":0.9167,"color":"#fff"},{"offset":0.9167,"color":"#888"},{"offset":0.9417,"color":"#888"},{"offset":0.9417,"color":"#fff"},{"offset":1,"color":"#fff"}]}},
"encoding":{"x":{"field":"u","type":"quantitative","title":null},"y":{"field":"v","type":"quantitative","axis":null,"title":null},"y2":{"datum":0},"detail":{"field":"s"}}},
{"data":{"values":[{}]},"mark":{"type":"rule","color":"#888","strokeWidth":1},"encoding":{"x":{"datum":0},"x2":{"datum":2},"y":{"datum":0,"axis":null}}},
{"data":{"name":"p4in"},"mark":{"type":"line","color":"#000","strokeWidth":1,"strokeDash":[2,2]},
"encoding":{"x":{"field":"u","type":"quantitative","title":null},"y":{"field":"v","type":"quantitative","title":null,"axis":{"orient":"right","offset":-40,"values":[-0.2,-0.1,0,0.1,0.2],"format":".1f","labelFontSize":4.5,"tickSize":2,"labelPadding":1,"title":null,"tickColor":"#888","labelColor":"#444"}},"detail":{"field":"s"}}}
],
"resolve":{"axis":{"y":"independent"}}}
],
"resolve":{"scale":{"x":"independent","y":"independent"}}}
],"spacing":1,"bounds":"flush"},

{"vconcat":[
{"width":365,"height":204,
"layer":[
{"layer":[
{"data":{"name":"p5hy"},"mark":{"type":"line","color":"#0000ff","strokeWidth":1.5,"interpolate":"monotone","clip":true},
"encoding":{"x":{"field":"u","type":"quantitative","scale":{"domain":[0,5],"nice":false,"zero":false},"axis":{"orient":"top","values":[0,1,2,3,4,5],"format":"d","title":"u (number of periods)","titleFontSize":12.5,"titlePadding":5,"labelPadding":3}},
"y":{"field":"v","type":"quantitative","scale":{"domain":[-0.245,1.5],"nice":false,"zero":false},"axis":{"orient":"left","values":[0,0.5,1,1.5],"format":".1f","labelColor":"#2233ff","title":"Hy (a.u.)","titleColor":"#2233ff","titleAngle":0,"titleX":-51,"titleY":88,"titleAlign":"left","titleBaseline":"middle"}}}},
{"data":{"values":[{}]},"mark":{"type":"text","align":"left","baseline":"top","fontSize":12.5,"lineHeight":15},"encoding":{"x":{"datum":0.54},"y":{"datum":1.209},"text":{"value":["a=-1.0","q=-4.0"]}}},
{"data":{"values":[{}]},"mark":{"type":"rect","fill":"#fff","stroke":"#777","strokeWidth":1},"encoding":{"x":{"datum":4.726},"x2":{"datum":5},"y":{"datum":1.5},"y2":{"datum":1.329}}},
{"data":{"values":[{}]},"mark":{"type":"text","align":"center","baseline":"middle","fontSize":17},"encoding":{"x":{"datum":4.863},"y":{"datum":1.414},"text":{"value":"5"}}}
]},
{"data":{"name":"p5hp"},"mark":{"type":"line","color":"#000","strokeWidth":1.3,"strokeDash":[5,3],"interpolate":"monotone","clip":true},
"encoding":{"x":{"field":"u","type":"quantitative","scale":{"domain":[0,5],"nice":false,"zero":false},"axis":{"orient":"bottom","values":[0,1,2,3,4,5],"labels":false,"title":null}},
"y":{"field":"v","type":"quantitative","scale":{"domain":[-1.75,2.5],"nice":false,"zero":false},"axis":{"orient":"right","values":[-1,0,1,2],"format":"d","title":"H'y(a.u.)","titleFontSize":12,"titleAngle":0,"titleX":4,"titleY":92,"titleAlign":"left","titleBaseline":"middle"}}}},
{"layer":[
{"data":{"values":[{}]},"mark":{"type":"rect","fill":"#fff","stroke":"#888","strokeWidth":1},
"encoding":{"x":{"datum":0,"scale":{"domain":[0,2],"range":[188,325],"nice":false,"zero":false},"axis":{"orient":"bottom","offset":-106,"values":[0,1,2],"format":"d","labelFontSize":5,"tickSize":2,"labelPadding":1,"title":null,"tickColor":"#888","labelColor":"#444"}},"x2":{"datum":2},
"y":{"datum":-0.25,"scale":{"domain":[-0.25,0.245],"range":[98,17],"nice":false,"zero":false},"axis":{"orient":"left","offset":-188,"values":[-0.2,-0.1,0,0.1,0.2],"format":".1f","labelFontSize":4.5,"tickSize":2,"labelPadding":1,"title":null,"tickColor":"#888","labelColor":"#444"}},"y2":{"datum":0.245}}},
{"data":{"name":"p5hatch"},"mark":{"type":"area","fill":{"gradient":"linear","x1":0,"y1":0,"x2":1,"y2":1,"stops":[{"offset":0,"color":"#888"},{"offset":0.025,"color":"#888"},{"offset":0.025,"color":"#fff"},{"offset":0.0833,"color":"#fff"},{"offset":0.0833,"color":"#888"},{"offset":0.1083,"color":"#888"},{"offset":0.1083,"color":"#fff"},{"offset":0.1667,"color":"#fff"},{"offset":0.1667,"color":"#888"},{"offset":0.1917,"color":"#888"},{"offset":0.1917,"color":"#fff"},{"offset":0.25,"color":"#fff"},{"offset":0.25,"color":"#888"},{"offset":0.275,"color":"#888"},{"offset":0.275,"color":"#fff"},{"offset":0.3333,"color":"#fff"},{"offset":0.3333,"color":"#888"},{"offset":0.3583,"color":"#888"},{"offset":0.3583,"color":"#fff"},{"offset":0.4167,"color":"#fff"},{"offset":0.4167,"color":"#888"},{"offset":0.4417,"color":"#888"},{"offset":0.4417,"color":"#fff"},{"offset":0.5,"color":"#fff"},{"offset":0.5,"color":"#888"},{"offset":0.525,"color":"#888"},{"offset":0.525,"color":"#fff"},{"offset":0.5833,"color":"#fff"},{"offset":0.5833,"color":"#888"},{"offset":0.6083,"color":"#888"},{"offset":0.6083,"color":"#fff"},{"offset":0.6667,"color":"#fff"},{"offset":0.6667,"color":"#888"},{"offset":0.6917,"color":"#888"},{"offset":0.6917,"color":"#fff"},{"offset":0.75,"color":"#fff"},{"offset":0.75,"color":"#888"},{"offset":0.775,"color":"#888"},{"offset":0.775,"color":"#fff"},{"offset":0.8333,"color":"#fff"},{"offset":0.8333,"color":"#888"},{"offset":0.8583,"color":"#888"},{"offset":0.8583,"color":"#fff"},{"offset":0.9167,"color":"#fff"},{"offset":0.9167,"color":"#888"},{"offset":0.9417,"color":"#888"},{"offset":0.9417,"color":"#fff"},{"offset":1,"color":"#fff"}]}},
"encoding":{"x":{"field":"u","type":"quantitative","title":null},"y":{"field":"v","type":"quantitative","axis":null,"title":null},"y2":{"datum":0},"detail":{"field":"s"}}},
{"data":{"values":[{}]},"mark":{"type":"rule","color":"#888","strokeWidth":1},"encoding":{"x":{"datum":0},"x2":{"datum":2},"y":{"datum":0,"axis":null}}},
{"data":{"name":"p5in"},"mark":{"type":"line","color":"#000","strokeWidth":1,"strokeDash":[2,2]},
"encoding":{"x":{"field":"u","type":"quantitative","title":null},"y":{"field":"v","type":"quantitative","title":null,"axis":{"orient":"right","offset":-40,"values":[-0.2,-0.1,0,0.1,0.2],"format":".1f","labelFontSize":4.5,"tickSize":2,"labelPadding":1,"title":null,"tickColor":"#888","labelColor":"#444"}},"detail":{"field":"s"}}}
],
"resolve":{"axis":{"y":"independent"}}}
],
"resolve":{"scale":{"x":"independent","y":"independent"}}},

{"width":365,"height":204,
"layer":[
{"layer":[
{"data":{"name":"p6hy"},"mark":{"type":"line","color":"#0000ff","strokeWidth":1.5,"interpolate":"monotone","clip":true},
"encoding":{"x":{"field":"u","type":"quantitative","scale":{"domain":[0,5],"nice":false,"zero":false},"axis":{"orient":"top","values":[0,1,2,3,4,5],"labels":false,"title":null}},
"y":{"field":"v","type":"quantitative","scale":{"domain":[-0.055,1.05],"nice":false,"zero":false},"axis":{"orient":"left","values":[0,0.5,1],"format":".1f","labelColor":"#2233ff","title":"Hy (a.u.)","titleColor":"#2233ff","titleAngle":0,"titleX":-51,"titleY":84,"titleAlign":"left","titleBaseline":"middle"}}}},
{"data":{"values":[{}]},"mark":{"type":"text","align":"left","baseline":"top","fontSize":12.5,"lineHeight":15},"encoding":{"x":{"datum":0.39},"y":{"datum":0.969},"text":{"value":["a=-0.20","q=-0.02"]}}},
{"data":{"values":[{}]},"mark":{"type":"rect","fill":"#fff","stroke":"#777","strokeWidth":1},"encoding":{"x":{"datum":4.726},"x2":{"datum":5},"y":{"datum":1.05},"y2":{"datum":0.942}}},
{"data":{"values":[{}]},"mark":{"type":"text","align":"center","baseline":"middle","fontSize":17},"encoding":{"x":{"datum":4.863},"y":{"datum":0.996},"text":{"value":"6"}}}
]},
{"data":{"name":"p6hp"},"mark":{"type":"line","color":"#000","strokeWidth":1.3,"strokeDash":[5,3],"interpolate":"monotone","clip":true},
"encoding":{"x":{"field":"u","type":"quantitative","scale":{"domain":[0,5],"nice":false,"zero":false},"axis":{"orient":"bottom","values":[0,1,2,3,4,5],"labels":false,"title":null}},
"y":{"field":"v","type":"quantitative","scale":{"domain":[-0.453,0.049],"nice":false,"zero":false},"axis":{"orient":"right","values":[-0.4,-0.3,-0.2,-0.1,0],"format":".1f","title":"H'y(a.u.)","titleFontSize":12,"titleAngle":0,"titleX":4,"titleY":82,"titleAlign":"left","titleBaseline":"middle"}}}},
{"layer":[
{"data":{"values":[{}]},"mark":{"type":"rect","fill":"#fff","stroke":"#888","strokeWidth":1},
"encoding":{"x":{"datum":0,"scale":{"domain":[0,2],"range":[208,346],"nice":false,"zero":false},"axis":{"orient":"bottom","offset":-87,"values":[0,1,2],"format":"d","labelFontSize":5,"tickSize":2,"labelPadding":1,"title":null,"tickColor":"#888","labelColor":"#444"}},"x2":{"datum":2},
"y":{"datum":-0.248,"scale":{"domain":[-0.248,0.053],"range":[117,34],"nice":false,"zero":false},"axis":{"orient":"left","offset":-208,"values":[-0.2,-0.1,0],"format":".1f","labelFontSize":4.5,"tickSize":2,"labelPadding":1,"title":null,"tickColor":"#888","labelColor":"#444"}},"y2":{"datum":0.053}}},
{"data":{"values":[{}]},"mark":{"type":"rule","color":"#888","strokeWidth":1},"encoding":{"x":{"datum":0},"x2":{"datum":2},"y":{"datum":0,"axis":null}}},
{"data":{"name":"p6in"},"mark":{"type":"line","color":"#000","strokeWidth":1,"strokeDash":[2,2],"interpolate":"monotone"},
"encoding":{"x":{"field":"u","type":"quantitative","title":null},"y":{"field":"v","type":"quantitative","title":null,"axis":{"orient":"right","offset":-19,"values":[-0.2,-0.1,0],"format":".1f","labelFontSize":4.5,"tickSize":2,"labelPadding":1,"title":null,"tickColor":"#888","labelColor":"#444"}},"detail":{"field":"s"}}}
],
"resolve":{"axis":{"y":"independent"}}}
],
"resolve":{"scale":{"x":"independent","y":"independent"}}},

{"width":365,"height":204,
"layer":[
{"layer":[
{"data":{"name":"p7hy"},"mark":{"type":"line","color":"#0000ff","strokeWidth":1.5,"interpolate":"monotone","clip":true},
"encoding":{"x":{"field":"u","type":"quantitative","scale":{"domain":[0,5],"nice":false,"zero":false},"axis":{"orient":"top","values":[0,1,2,3,4,5],"labels":false,"title":null}},
"y":{"field":"v","type":"quantitative","scale":{"domain":[-0.193,1.193],"nice":false,"zero":false},"axis":{"orient":"left","values":[0,0.5,1],"format":".1f","labelColor":"#2233ff","title":"Hy (a.u.)","titleColor":"#2233ff","titleAngle":0,"titleX":-51,"titleY":82,"titleAlign":"left","titleBaseline":"middle"}}}},
{"data":{"values":[{}]},"mark":{"type":"text","align":"left","baseline":"top","fontSize":12.5,"lineHeight":15},"encoding":{"x":{"datum":0.72},"y":{"datum":0.825},"text":{"value":["a=-1.0","q=-1.0"]}}},
{"data":{"values":[{}]},"mark":{"type":"rect","fill":"#fff","stroke":"#777","strokeWidth":1},"encoding":{"x":{"datum":4.726},"x2":{"datum":5},"y":{"datum":1.193},"y2":{"datum":1.057}}},
{"data":{"values":[{}]},"mark":{"type":"text","align":"center","baseline":"middle","fontSize":17},"encoding":{"x":{"datum":4.863},"y":{"datum":1.125},"text":{"value":"7"}}}
]},
{"data":{"name":"p7hp"},"mark":{"type":"line","color":"#000","strokeWidth":1.3,"strokeDash":[5,3],"interpolate":"monotone","clip":true},
"encoding":{"x":{"field":"u","type":"quantitative","scale":{"domain":[0,5],"nice":false,"zero":false},"axis":{"orient":"bottom","values":[0,1,2,3,4,5],"labels":false,"title":null}},
"y":{"field":"v","type":"quantitative","scale":{"domain":[-0.797,0.098],"nice":false,"zero":false},"axis":{"orient":"right","values":[-0.75,-0.5,-0.25,0],"format":".2f","title":"H'y(a.u.)","titleFontSize":12,"titleAngle":0,"titleX":4,"titleY":95,"titleAlign":"left","titleBaseline":"middle"}}}},
{"layer":[
{"data":{"values":[{}]},"mark":{"type":"rect","fill":"#fff","stroke":"#888","strokeWidth":1},
"encoding":{"x":{"datum":0,"scale":{"domain":[0,2],"range":[209,346],"nice":false,"zero":false},"axis":{"orient":"bottom","offset":-94,"values":[0,1,2],"format":"d","labelFontSize":5,"tickSize":2,"labelPadding":1,"title":null,"tickColor":"#888","labelColor":"#444"}},"x2":{"datum":2},
"y":{"datum":-0.01,"scale":{"domain":[-0.01,0.0051],"range":[110,27],"nice":false,"zero":false},"axis":{"orient":"left","offset":-209,"values":[-0.01,0],"format":".2f","labelFontSize":4.5,"tickSize":2,"labelPadding":1,"title":null,"tickColor":"#888","labelColor":"#444"}},"y2":{"datum":0.0051}}},
{"data":{"values":[{}]},"mark":{"type":"rule","color":"#888","strokeWidth":1},"encoding":{"x":{"datum":0},"x2":{"datum":2},"y":{"datum":0,"axis":null}}},
{"data":{"name":"p7in"},"mark":{"type":"line","color":"#000","strokeWidth":1,"strokeDash":[2,2],"interpolate":"monotone"},
"encoding":{"x":{"field":"u","type":"quantitative","title":null},"y":{"field":"v","type":"quantitative","title":null,"axis":{"orient":"right","offset":-19,"values":[-0.01,0],"format":".2f","labelFontSize":4.5,"tickSize":2,"labelPadding":1,"title":null,"tickColor":"#888","labelColor":"#444"}},"detail":{"field":"s"}}}
],
"resolve":{"axis":{"y":"independent"}}}
],
"resolve":{"scale":{"x":"independent","y":"independent"}}},

{"width":365,"height":204,
"layer":[
{"layer":[
{"data":{"name":"p8hy"},"mark":{"type":"line","color":"#0000ff","strokeWidth":1.5,"interpolate":"monotone","clip":true},
"encoding":{"x":{"field":"u","type":"quantitative","scale":{"domain":[0,5],"nice":false,"zero":false},"axis":{"orient":"top","values":[0,1,2,3,4,5],"labels":false,"title":null}},
"y":{"field":"v","type":"quantitative","scale":{"domain":[-0.098,1.098],"nice":false,"zero":false},"axis":{"orient":"left","values":[0,0.5,1],"format":".1f","labelColor":"#2233ff","title":"Hy (a.u.)","titleColor":"#2233ff","titleAngle":0,"titleX":-51,"titleY":85,"titleAlign":"left","titleBaseline":"middle"}}}},
{"data":{"values":[{}]},"mark":{"type":"text","align":"left","baseline":"top","fontSize":12.5,"lineHeight":15},"encoding":{"x":{"datum":0.86},"y":{"datum":0.771},"text":{"value":["a=-0.9","q=-1.0"]}}},
{"data":{"values":[{}]},"mark":{"type":"rect","fill":"#fff","stroke":"#777","strokeWidth":1},"encoding":{"x":{"datum":4.726},"x2":{"datum":5},"y":{"datum":1.098},"y2":{"datum":0.981}}},
{"data":{"values":[{}]},"mark":{"type":"text","align":"center","baseline":"middle","fontSize":17},"encoding":{"x":{"datum":4.863},"y":{"datum":1.04},"text":{"value":"8"}}}
]},
{"data":{"name":"p8hp"},"mark":{"type":"line","color":"#000","strokeWidth":1.3,"strokeDash":[5,3],"interpolate":"monotone","clip":true},
"encoding":{"x":{"field":"u","type":"quantitative","scale":{"domain":[0,5],"nice":false,"zero":false},"axis":{"orient":"bottom","values":[0,1,2,3,4,5],"labels":false,"title":null}},
"y":{"field":"v","type":"quantitative","scale":{"domain":[-0.748,0.096],"nice":false,"zero":false},"axis":{"orient":"right","values":[-0.6,-0.4,-0.2,0],"format":".1f","title":"H'y(a.u.)","titleFontSize":12,"titleAngle":0,"titleX":4,"titleY":87,"titleAlign":"left","titleBaseline":"middle"}}}},
{"layer":[
{"data":{"values":[{}]},"mark":{"type":"rect","fill":"#fff","stroke":"#888","strokeWidth":1},
"encoding":{"x":{"datum":0,"scale":{"domain":[0,2],"range":[208,346],"nice":false,"zero":false},"axis":{"orient":"bottom","offset":-86,"values":[0,1,2],"format":"d","labelFontSize":5,"tickSize":2,"labelPadding":1,"title":null,"tickColor":"#888","labelColor":"#444"}},"x2":{"datum":2},
"y":{"datum":-0.01,"scale":{"domain":[-0.01,0.01],"range":[118,36],"nice":false,"zero":false},"axis":{"orient":"left","offset":-208,"values":[-0.01,0,0.01],"format":".2f","labelFontSize":4.5,"tickSize":2,"labelPadding":1,"title":null,"tickColor":"#888","labelColor":"#444"}},"y2":{"datum":0.01}}},
{"data":{"name":"p8hatch"},"mark":{"type":"area","fill":{"gradient":"linear","x1":0,"y1":0,"x2":1,"y2":1,"stops":[{"offset":0,"color":"#888"},{"offset":0.08,"color":"#888"},{"offset":0.08,"color":"#fff"},{"offset":0.25,"color":"#fff"},{"offset":0.25,"color":"#888"},{"offset":0.33,"color":"#888"},{"offset":0.33,"color":"#fff"},{"offset":0.5,"color":"#fff"},{"offset":0.5,"color":"#888"},{"offset":0.58,"color":"#888"},{"offset":0.58,"color":"#fff"},{"offset":0.75,"color":"#fff"},{"offset":0.75,"color":"#888"},{"offset":0.83,"color":"#888"},{"offset":0.83,"color":"#fff"},{"offset":1,"color":"#fff"}]}},
"encoding":{"x":{"field":"u","type":"quantitative","title":null},"y":{"field":"v","type":"quantitative","axis":null,"title":null},"y2":{"datum":0},"detail":{"field":"s"}}},
{"data":{"values":[{}]},"mark":{"type":"rule","color":"#888","strokeWidth":1},"encoding":{"x":{"datum":0},"x2":{"datum":2},"y":{"datum":0,"axis":null}}},
{"data":{"name":"p8in"},"mark":{"type":"line","color":"#000","strokeWidth":1,"strokeDash":[2,2],"interpolate":"monotone"},
"encoding":{"x":{"field":"u","type":"quantitative","title":null},"y":{"field":"v","type":"quantitative","title":null,"axis":{"orient":"right","offset":-19,"values":[-0.01,0,0.01],"format":".2f","labelFontSize":4.5,"tickSize":2,"labelPadding":1,"title":null,"tickColor":"#888","labelColor":"#444"}},"detail":{"field":"s"}}}
],
"resolve":{"axis":{"y":"independent"}}}
],
"resolve":{"scale":{"x":"independent","y":"independent"}}}
],"spacing":1,"bounds":"flush"}
]
}
